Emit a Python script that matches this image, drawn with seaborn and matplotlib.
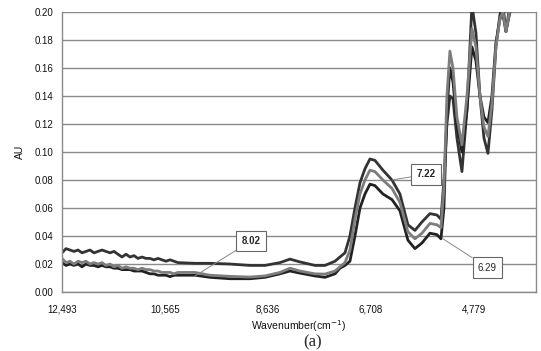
import numpy as np
import pandas as pd
import seaborn as sns
from matplotlib import pyplot as plt

# wavenumber (cm-1)
wavenumber = [12493, 12418, 12343, 12268, 12193, 12118, 12044, 11969, 11894, 11819,
              11744, 11669, 11594, 11519, 11445, 11370, 11295, 11220, 11145, 11070,
              10995, 10920, 10846, 10771, 10696, 10621, 10546, 10471, 10396, 10321,
              10003, 9722, 9348, 8974, 8693, 8412, 8225, 8038, 7757, 7570,
              7382, 7289, 7195, 7102, 7008, 6914, 6821, 6727, 6634, 6484,
              6315, 6166, 6016, 5885, 5754, 5604, 5473, 5398, 5342, 5286,
              5230, 5173, 5099, 5005, 4911, 4818, 4743, 4668, 4593, 4518,
              4443, 4369, 4294, 4237, 4181, 4106]

au_722 = [0.028, 0.031, 0.030, 0.029, 0.030, 0.028, 0.029, 0.030, 0.028, 0.029,
          0.030, 0.029, 0.028, 0.029, 0.027, 0.025, 0.027, 0.025, 0.026, 0.024,
          0.025, 0.024, 0.024, 0.023, 0.024, 0.023, 0.022, 0.023, 0.022, 0.021,
          0.0205, 0.0205, 0.020, 0.019, 0.019, 0.021, 0.0235, 0.0215, 0.019, 0.019,
          0.022, 0.025, 0.028, 0.040, 0.060, 0.078, 0.088, 0.095, 0.094, 0.087,
          0.080, 0.070, 0.048, 0.044, 0.050, 0.056, 0.055, 0.052, 0.080, 0.120,
          0.140, 0.138, 0.110, 0.086, 0.130, 0.205, 0.185, 0.140, 0.110, 0.099,
          0.130, 0.175, 0.198, 0.205, 0.186, 0.205]

au_802 = [0.024, 0.021, 0.022, 0.020, 0.022, 0.021, 0.022, 0.020, 0.021, 0.020,
          0.021, 0.019, 0.020, 0.018, 0.019, 0.017, 0.018, 0.017, 0.017, 0.016,
          0.017, 0.016, 0.016, 0.015, 0.015, 0.014, 0.014, 0.014, 0.013, 0.014,
          0.014, 0.012, 0.0112, 0.0107, 0.0115, 0.014, 0.017, 0.015, 0.013, 0.0128,
          0.015, 0.018, 0.021, 0.030, 0.052, 0.070, 0.080, 0.087, 0.086, 0.080,
          0.074, 0.064, 0.043, 0.038, 0.042, 0.049, 0.048, 0.046, 0.075, 0.140,
          0.172, 0.160, 0.125, 0.105, 0.140, 0.188, 0.175, 0.140, 0.118, 0.111,
          0.135, 0.175, 0.195, 0.200, 0.186, 0.202]

au_629 = [0.021, 0.019, 0.020, 0.019, 0.020, 0.018, 0.020, 0.019, 0.019, 0.018,
          0.019, 0.018, 0.018, 0.017, 0.017, 0.016, 0.016, 0.016, 0.015, 0.015,
          0.015, 0.014, 0.013, 0.013, 0.012, 0.012, 0.012, 0.011, 0.012, 0.012,
          0.012, 0.0105, 0.0095, 0.0095, 0.0105, 0.013, 0.015, 0.0135, 0.0115, 0.0105,
          0.013, 0.017, 0.019, 0.022, 0.040, 0.060, 0.070, 0.077, 0.076, 0.070,
          0.066, 0.058, 0.037, 0.031, 0.035, 0.042, 0.041, 0.038, 0.060, 0.130,
          0.160, 0.150, 0.120, 0.100, 0.130, 0.175, 0.165, 0.140, 0.125, 0.121,
          0.140, 0.178, 0.195, 0.198, 0.186, 0.200]

x_ticks = [12493, 10565, 8636, 6708, 4779]
y_ticks = [0.00, 0.02, 0.04, 0.06, 0.08, 0.10, 0.12, 0.14, 0.16, 0.18, 0.20]

df = pd.DataFrame({
    "wavenumber": wavenumber * 3,
    "AU": au_722 + au_629 + au_802,
    "sample": ["7.22"] * len(wavenumber) + ["6.29"] * len(wavenumber) + ["8.02"] * len(wavenumber),
})

sns.set_style("white")
plt.rcParams['font.family'] = ['Liberation Sans', 'DejaVu Sans']

fig = plt.figure(figsize=(5.41, 3.51), dpi=100)
ax = fig.add_axes([0.1146, 0.168, 0.876, 0.798])

sns.lineplot(data=df, x="wavenumber", y="AU", hue="sample",
             hue_order=["7.22", "6.29", "8.02"],
             palette={"7.22": "#333333", "6.29": "#222222", "8.02": "#7d7d7d"},
             linewidth=2.0, legend=False, sort=False, ax=ax)

ax.set_xlim(12493, 3620)
ax.set_ylim(0, 0.20)
ax.set_xticks(x_ticks)
ax.set_xticklabels([f"{t:,}" for t in x_ticks], fontsize=7, color="#111111")
ax.set_yticks(y_ticks)
ax.set_yticklabels([f"{t:.2f}" for t in y_ticks], fontsize=7, color="#111111")
ax.yaxis.grid(True, color="#8a8a8a", linewidth=1)
ax.tick_params(axis="both", direction="out", length=3, width=1, color="#8a8a8a", pad=3)
ax.tick_params(axis="x", pad=6)
for side in ["left", "bottom", "right"]:
    ax.spines[side].set_color("#8a8a8a")
    ax.spines[side].set_linewidth(1)
ax.spines["top"].set_visible(False)

ax.set_xlabel(r"Wavenumber(cm$^{-1}$)", fontsize=7.5, labelpad=3, color="#111111")
ax.set_ylabel("AU", fontsize=7.5, labelpad=7, color="#111111")

box = dict(boxstyle="square,pad=0.55", fc="white", ec="#666666", lw=0.8)
ax.annotate("8.02", xy=(10003, 0.0115), xytext=(8955, 0.0364), fontsize=7, fontweight="bold",
            ha="center", va="center", bbox=box,
            arrowprops=dict(arrowstyle="-", color="#888888", lw=0.7, shrinkA=0, shrinkB=0))
ax.annotate("7.22", xy=(6315, 0.080), xytext=(5679, 0.084), fontsize=7, fontweight="bold",
            ha="center", va="center", bbox=box,
            arrowprops=dict(arrowstyle="-", color="#888888", lw=0.7, shrinkA=0, shrinkB=0))
ax.annotate("6.29", xy=(5360, 0.038), xytext=(4528, 0.0175), fontsize=7,
            ha="center", va="center", bbox=box,
            arrowprops=dict(arrowstyle="-", color="#888888", lw=0.7, shrinkA=0, shrinkB=0))

fig.text(0.5786, 0.024, "(a)", fontsize=12, family=["Liberation Serif", "DejaVu Serif"],
         ha="center", va="center")

fig.savefig("out.png", dpi=100)
